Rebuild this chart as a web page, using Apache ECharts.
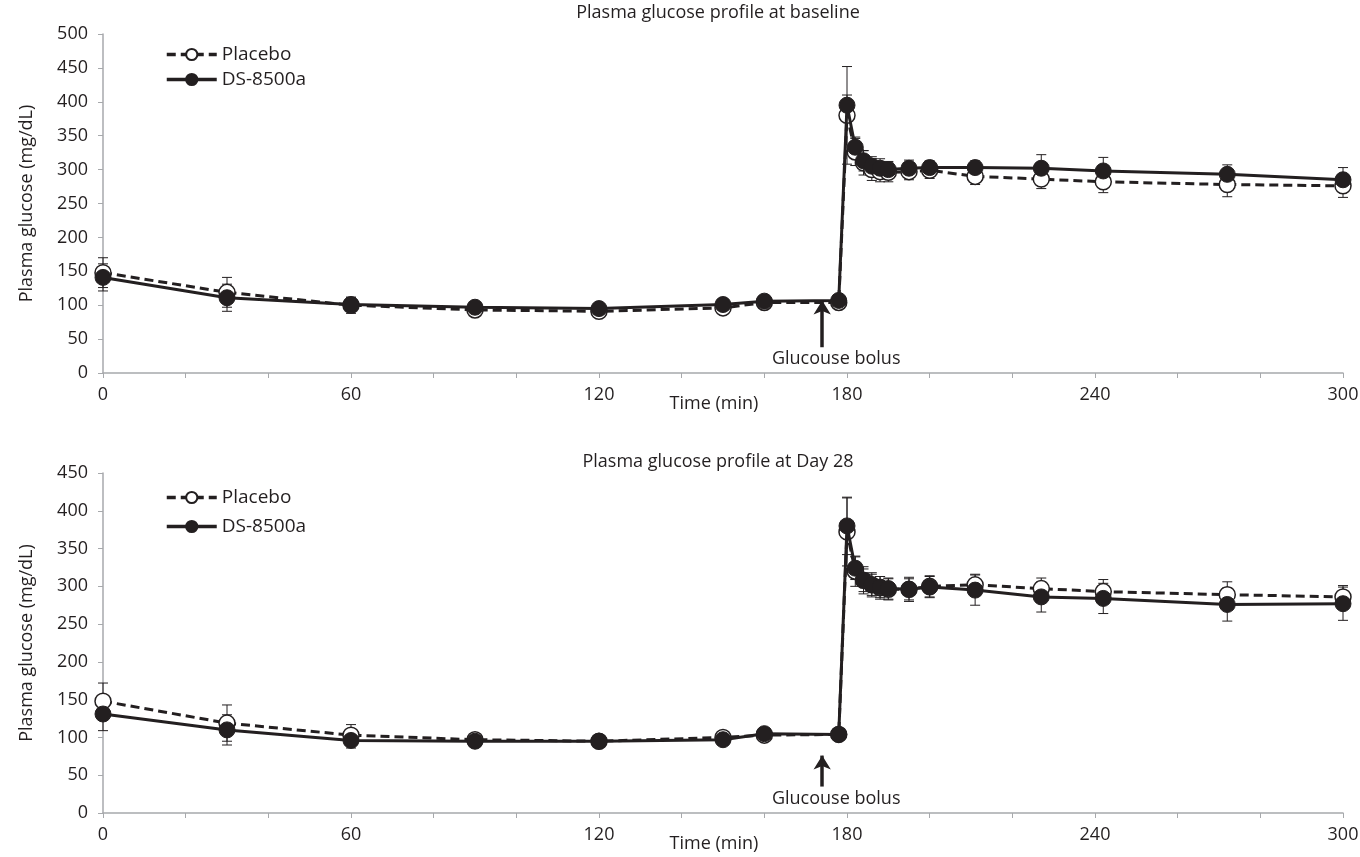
<!DOCTYPE html>
<html>
<head>
<meta charset="utf-8">
<title>Plasma glucose profile</title>
<script src="https://cdn.jsdelivr.net/npm/echarts@6/dist/echarts.min.js"></script>
<style>
  html, body { margin: 0; padding: 0; background: #fff; }
  #main { width: 1360px; height: 857px; }
</style>
</head>
<body>
<div id="main"></div>
<script>
// sampling times (min)
var times = [0, 30, 60, 90, 120, 150, 160, 178, 180, 182, 184, 186, 188, 190, 195, 200, 211, 227, 242, 272, 300];

// baseline
var placeboBase    = [148, 119, 100, 93, 91, 96, 104, 104, 380, 326, 310, 300, 297, 296, 297, 299, 290, 286, 282, 278, 276];
var placeboBaseErr = [22, 22, 12, 8, 7, 8, 6, 6, 72, 20, 18, 16, 15, 14, 12, 12, 12, 14, 16, 18, 17];
var dsBase         = [141, 111, 101, 97, 95, 101, 106, 107, 395, 333, 313, 305, 302, 300, 302, 303, 303, 302, 298, 293, 285];
var dsBaseErr      = [20, 20, 10, 7, 7, 7, 5, 5, 15, 15, 15, 14, 14, 12, 12, 10, 10, 20, 20, 14, 18];

// day 28
var placeboD28    = [148, 119, 103, 97, 95, 100, 103, 104, 372, 320, 308, 302, 298, 296, 296, 300, 302, 297, 293, 289, 286];
var placeboD28Err = [24, 24, 14, 8, 7, 8, 6, 6, 45, 20, 18, 16, 15, 14, 14, 14, 14, 14, 16, 17, 15];
var dsD28         = [131, 110, 96, 95, 95, 97, 105, 104, 380, 324, 308, 302, 299, 297, 296, 299, 295, 286, 284, 276, 277];
var dsD28Err      = [22, 20, 10, 7, 7, 7, 5, 5, 38, 15, 15, 14, 14, 14, 16, 14, 20, 20, 20, 22, 22];

var xTicks = [0, 60, 120, 180, 240, 300];
var titles = ['Plasma glucose profile at baseline', 'Plasma glucose profile at Day 28'];

// glucose bolus arrow (time, from, to) per panel
var bolusTime = 174;
var bolusArrow = [[38, 107], [35, 76]];

var ink = '#231f20';
var axisGrey = '#a7a9ac';
var font = "'Open Sans', 'Noto Sans', sans-serif";

function pairs(vals) {
  return vals.map(function (v, i) { return [times[i], v]; });
}
function errData(vals, err) {
  return vals.map(function (v, i) { return [times[i], v - err[i], v + err[i]]; });
}

function renderErr(params, api) {
  var t = api.value(0);
  var hi = api.coord([t, api.value(2)]);
  var lo = api.coord([t, api.value(1)]);
  var cap = 5;
  var st = { stroke: ink, lineWidth: 1 };
  return {
    type: 'group',
    children: [
      { type: 'line', shape: { x1: hi[0], y1: hi[1], x2: lo[0], y2: lo[1] }, style: st },
      { type: 'line', shape: { x1: hi[0] - cap, y1: hi[1], x2: hi[0] + cap, y2: hi[1] }, style: st },
      { type: 'line', shape: { x1: lo[0] - cap, y1: lo[1], x2: lo[0] + cap, y2: lo[1] }, style: st }
    ]
  };
}

function panelSeries(idx, placebo, placeboErr, ds, dsErr) {
  return [{
    type: 'custom',
    xAxisIndex: idx, yAxisIndex: idx,
    renderItem: renderErr,
    encode: { x: 0, y: [1, 2] },
    data: errData(placebo, placeboErr),
    z: 1, silent: true
  }, {
    type: 'custom',
    xAxisIndex: idx, yAxisIndex: idx,
    renderItem: renderErr,
    encode: { x: 0, y: [1, 2] },
    data: errData(ds, dsErr),
    z: 1, silent: true
  }, {
    name: 'Placebo',
    type: 'line',
    xAxisIndex: idx, yAxisIndex: idx,
    data: pairs(placebo),
    symbol: 'circle',
    symbolSize: 16,
    lineStyle: { color: ink, width: 3, type: [9, 5] },
    itemStyle: { color: '#fff', borderColor: ink, borderWidth: 1.5 },
    z: 2
  }, {
    name: 'DS-8500a',
    type: 'line',
    xAxisIndex: idx, yAxisIndex: idx,
    data: pairs(ds),
    symbol: 'circle',
    symbolSize: 16,
    lineStyle: { color: ink, width: 3 },
    itemStyle: { color: ink, borderColor: ink, borderWidth: 1 },
    z: 3,
    markLine: {
      silent: true,
      symbol: ['none', 'arrow'],
      symbolSize: [13, 14],
      lineStyle: { color: ink, width: 3.5, type: 'solid' },
      label: {
        show: true,
        position: 'start',
        distance: 3,
        offset: [14, 0],
        formatter: 'Glucouse bolus',
        color: ink,
        fontSize: 18,
        fontFamily: font
      },
      data: [[
        { coord: [bolusTime, bolusArrow[idx][0]] },
        { coord: [bolusTime, bolusArrow[idx][1]] }
      ]]
    }
  }];
}

function xAxisOpt(idx) {
  return {
    type: 'value',
    gridIndex: idx,
    min: 0, max: 300, interval: 20,
    name: 'Time (min)',
    nameLocation: 'middle',
    nameGap: 22,
    nameMoveOverlap: false,
    nameTextStyle: { color: ink, fontSize: 18, fontFamily: font, padding: [0, 18, 0, 0] },
    axisLine: { lineStyle: { color: axisGrey, width: 1.5 } },
    axisTick: { length: 5, lineStyle: { color: axisGrey } },
    axisLabel: {
      color: ink, fontSize: 18, fontFamily: font, margin: 13,
      formatter: function (v) { return xTicks.indexOf(v) >= 0 ? String(v) : ''; }
    },
    splitLine: { show: false }
  };
}

function yAxisOpt(idx, max) {
  return {
    type: 'value',
    gridIndex: idx,
    min: 0, max: max, interval: 50,
    name: 'Plasma glucose (mg/dL)',
    nameLocation: 'middle',
    nameRotate: 90,
    nameGap: 67,
    nameMoveOverlap: false,
    nameTextStyle: { color: ink, fontSize: 18, fontFamily: font },
    axisLine: { show: true, lineStyle: { color: axisGrey, width: 1.5 } },
    axisTick: { show: true, length: 5, lineStyle: { color: axisGrey } },
    axisLabel: { color: ink, fontSize: 18, fontFamily: font, margin: 15 },
    splitLine: { show: false }
  };
}

function legendOpt(top, gap) {
  return {
    data: ['Placebo', 'DS-8500a'],
    orient: 'vertical',
    left: 160,
    top: top,
    itemWidth: 50,
    itemHeight: 14,
    itemGap: gap,
    selectedMode: false,
    lineStyle: { width: 3.5 },
    textStyle: { color: ink, fontSize: 19, fontFamily: font }
  };
}

var chart = echarts.init(document.getElementById('main'), null, { renderer: 'canvas' });

var option = {
  animation: false,
  backgroundColor: '#fff',
  title: [{
    text: titles[0], left: 713, top: -1, textAlign: 'center',
    textStyle: { color: ink, fontSize: 18, fontWeight: 'normal', fontFamily: font }
  }, {
    text: titles[1], left: 713, top: 448, textAlign: 'center',
    textStyle: { color: ink, fontSize: 18, fontWeight: 'normal', fontFamily: font }
  }],
  legend: [legendOpt(40, 6), legendOpt(483, 10)],
  grid: [
    { left: 103, top: 34, width: 1240, height: 339, outerBoundsMode: 'none' },
    { left: 103, top: 473, width: 1240, height: 340, outerBoundsMode: 'none' }
  ],
  xAxis: [xAxisOpt(0), xAxisOpt(1)],
  yAxis: [yAxisOpt(0, 500), yAxisOpt(1, 450)],
  series: panelSeries(0, placeboBase, placeboBaseErr, dsBase, dsBaseErr)
    .concat(panelSeries(1, placeboD28, placeboD28Err, dsD28, dsD28Err))
};

chart.setOption(option);
</script>
</body>
</html>
